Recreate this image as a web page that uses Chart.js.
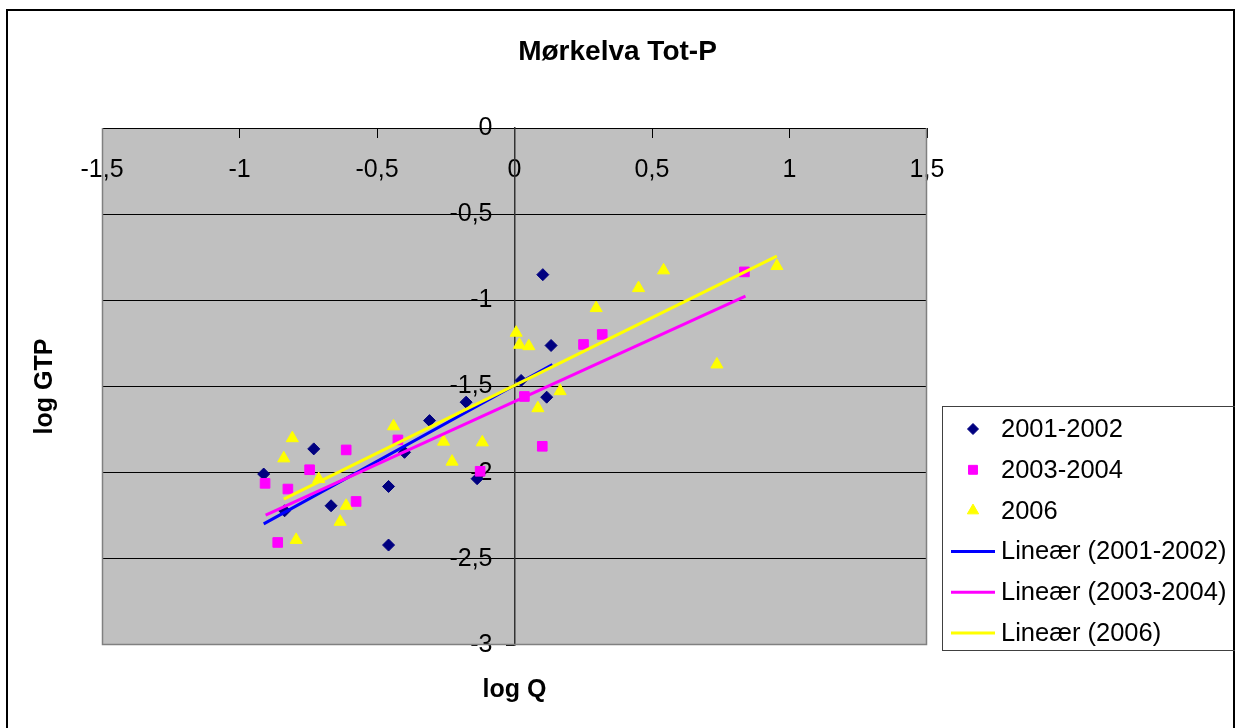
<!DOCTYPE html>
<html>
<head>
<meta charset="utf-8">
<title>Mørkelva Tot-P</title>
<script src="https://cdn.jsdelivr.net/npm/chart.js@4.4.0/dist/chart.umd.min.js"></script>
<style>
    html, body { margin: 0; padding: 0; background: #ffffff; }
    #wrap { width: 1235px; height: 728px; }
</style>
</head>
<body>
<div id="wrap"><canvas id="chartMorkelva" width="1235" height="728"></canvas></div>
<script>
// ---------- Datos ----------
var serieNombres = ['2001-2002', '2003-2004', '2006'];

// 2001-2002
var q0102   = [-0.912, -0.730, -0.836, -0.667, -0.458, -0.458, -0.400, -0.309, -0.176, -0.136, 0.024, 0.117, 0.133, 0.103];
var gtp0102 = [-2.008, -1.862, -2.221, -2.192, -2.080, -2.420, -1.882, -1.698, -1.591, -2.035, -1.465, -1.562, -1.262, -0.851];

// 2003-2004
var q0304   = [-0.907, -0.824, -0.861, -0.745, -0.612, -0.576, -0.424, -0.125, 0.036, 0.101, 0.251, 0.319, 0.836];
var gtp0304 = [-2.062, -2.095, -2.405, -1.983, -1.868, -2.167, -1.810, -1.992, -1.558, -1.847, -1.256, -1.198, -0.835];

// 2006
var q06   = [-0.808, -0.839, -0.712, -0.612, -0.634, -0.794, -0.440, -0.258, -0.227, -0.117, 0.006, 0.018, 0.052, 0.085, 0.166, 0.297, 0.451, 0.542, 0.736, 0.954];
var gtp06 = [-1.800, -1.917, -2.037, -2.192, -2.285, -2.390, -1.731, -1.820, -1.936, -1.824, -1.188, -1.258, -1.266, -1.626, -1.527, -1.045, -0.929, -0.826, -1.372, -0.801];

// lineas de tendencia (extremos)
var trendQ0102 = [-0.912, 0.138],  trendGtp0102 = [-2.297, -1.372];
var trendQ0304 = [-0.905, 0.840],  trendGtp0304 = [-2.246, -0.975];
var trendQ06   = [-0.839, 0.954],  trendGtp06   = [-2.153, -0.744];

// ejes
var xTickValues = [-1.5, -1, -0.5, 0, 0.5, 1, 1.5];
var xTickLabels = ['-1,5', '-1', '-0,5', '0', '0,5', '1', '1,5'];
var yTickValues = [-3, -2.5, -2, -1.5, -1, -0.5, 0];
var yTickLabels = ['-3', '-2,5', '-2', '-1,5', '-1', '-0,5', '0'];

// ---------- Helpers ----------
var FONT = "'Liberation Sans', Arial, Helvetica, sans-serif";
var ANCHO_AREA = 825;          // px del area de trazado (x de -1,5 a 1,5)
var SEP_ETIQUETA_Y = 22;       // px entre etiquetas del eje y y la linea x=0

function _puntos(xs, ys) {
    return xs.map(function (x, i) { return { x: x, y: ys[i] }; });
}

function _ticksFijos(valores) {
    return function (scale) {
        scale.ticks = valores.map(function (v) { return { value: v }; });
    };
}

function _etiqueta(valores, labels) {
    return function (v) {
        var i = valores.indexOf(v);
        return i >= 0 ? labels[i] : '';
    };
}

// fondo gris del area, marco exterior y borde del area
var fondoPlugin = {
    id: 'fondoPlugin',
    beforeDraw: function (chart) {
        var ctx = chart.ctx, a = chart.chartArea;
        ctx.save();
        ctx.fillStyle = '#ffffff';
        ctx.fillRect(0, 0, chart.width, chart.height);
        ctx.fillStyle = '#c0c0c0';
        ctx.fillRect(a.left, a.top, a.right - a.left, a.bottom - a.top);
        ctx.strokeStyle = '#000000';
        ctx.lineWidth = 2;
        ctx.strokeRect(7, 10, 1227, 740);
        ctx.restore();
    },
    beforeDatasetsDraw: function (chart) {
        var ctx = chart.ctx, a = chart.chartArea;
        ctx.save();
        ctx.strokeStyle = '#808080';
        ctx.lineWidth = 1.5;
        ctx.beginPath();
        ctx.moveTo(a.left + 0.5, a.top);
        ctx.lineTo(a.left + 0.5, a.bottom - 0.5);
        ctx.lineTo(a.right - 0.5, a.bottom - 0.5);
        ctx.lineTo(a.right - 0.5, a.top);
        ctx.stroke();
        ctx.restore();
    }
};

// leyenda con marco, al estilo Excel
var leyendaPlugin = {
    id: 'leyendaPlugin',
    afterDraw: function (chart) {
        var ctx = chart.ctx;
        var box = { left: 942.5, top: 406.5, right: 1240, bottom: 650.5 };
        ctx.save();
        ctx.strokeStyle = '#404040';
        ctx.lineWidth = 1;
        ctx.strokeRect(box.left, box.top, box.right - box.left, box.bottom - box.top);

        var y0 = 429, paso = 40.8;
        ctx.font = '25.5px ' + FONT;
        ctx.textBaseline = 'middle';
        ctx.textAlign = 'left';
        chart.data.datasets.forEach(function (ds, i) {
            var y = y0 + i * paso;
            if (ds.showLine) {
                ctx.strokeStyle = ds.borderColor;
                ctx.lineWidth = 3;
                ctx.beginPath();
                ctx.moveTo(951, y);
                ctx.lineTo(995, y);
                ctx.stroke();
            } else {
                ctx.fillStyle = ds.backgroundColor;
                ctx.strokeStyle = ds.borderColor;
                ctx.lineWidth = 1;
                Chart.helpers.drawPoint(ctx, {
                    pointStyle: ds.pointStyle, rotation: 0,
                    radius: ds.pointRadius - 0.5, borderWidth: 1
                }, 973, y);
            }
            ctx.fillStyle = '#000000';
            ctx.fillText(ds.label, 1001, y + 1);
        });
        ctx.restore();
    }
};

function _serie(label, xs, ys, estilo, color, radio, orden) {
    return {
        label: label,
        data: _puntos(xs, ys),
        pointStyle: estilo,
        pointRadius: radio,
        pointHoverRadius: radio,
        pointBorderWidth: 1,
        backgroundColor: color,
        borderColor: color,
        showLine: false,
        order: orden
    };
}

function _tendencia(label, xs, ys, color, orden) {
    return {
        label: label,
        data: _puntos(xs, ys),
        showLine: true,
        borderColor: color,
        backgroundColor: color,
        borderWidth: 3,
        pointRadius: 0,
        fill: false,
        order: orden
    };
}

var canvas = document.getElementById('chartMorkelva');
var fontTicks = { family: FONT, size: 25 };
var fontTitulo = { family: FONT, size: 25, weight: 'bold' };

new Chart(canvas, {
    type: 'scatter',
    data: {
        datasets: [
            _serie(serieNombres[0], q0102, gtp0102, 'rectRot', '#000080', 6, 5),
            _serie(serieNombres[1], q0304, gtp0304, 'rect', '#ff00ff', 6.8, 4),
            _serie(serieNombres[2], q06, gtp06, 'triangle', '#ffff00', 7, 3),
            _tendencia('Lineær (' + serieNombres[0] + ')', trendQ0102, trendGtp0102, '#0000ff', 2),
            _tendencia('Lineær (' + serieNombres[1] + ')', trendQ0304, trendGtp0304, '#ff00ff', 1),
            _tendencia('Lineær (' + serieNombres[2] + ')', trendQ06, trendGtp06, '#ffff00', 0)
        ]
    },
    options: {
        responsive: false,
        animation: false,
        devicePixelRatio: 1,
        layout: { padding: 0 },
        plugins: {
            legend: { display: false },
            tooltip: { enabled: false },
            title: {
                display: true,
                text: 'Mørkelva Tot-P',
                color: '#000000',
                font: { family: FONT, size: 28, weight: 'bold' },
                padding: { top: 35, bottom: 59.4 }
            }
        },
        scales: {
            x: {
                type: 'linear', position: 'bottom', min: -1.5, max: 1.5,
                ticks: { display: false },
                grid: { display: false },
                border: { display: false },
                title: { display: true, text: 'log Q', color: '#000000', font: fontTitulo, padding: { top: 0, bottom: 23 } },
                afterFit: function (s) { s.height = 83; }
            },
            y: {
                type: 'linear', position: 'left', min: -3, max: 0,
                afterBuildTicks: _ticksFijos(yTickValues),
                ticks: { display: false },
                grid: {
                    drawTicks: false,
                    lineWidth: 1,
                    color: function (c) { return (c.tick && c.tick.value === -3) ? 'rgba(0,0,0,0)' : '#000000'; }
                },
                border: { display: false },
                title: { display: true, text: 'log GTP', color: '#000000', font: fontTitulo, padding: { top: 30, bottom: 0 } },
                afterFit: function (s) { s.width = 102; }
            },
            // espacio a la derecha para la leyenda
            yLeyenda: {
                type: 'linear', axis: 'y', position: 'right', min: -3, max: 0,
                ticks: { display: false },
                grid: { display: false },
                border: { display: false },
                afterFit: function (s) { s.width = 308; }
            },
            // eje x cruzando en y = 0 (arriba)
            x2: {
                type: 'linear', axis: 'x', position: { y: 0 }, min: -1.5, max: 1.5,
                afterBuildTicks: _ticksFijos(xTickValues),
                ticks: { color: '#000000', font: fontTicks, padding: 18, maxRotation: 0, autoSkip: false,
                         callback: _etiqueta(xTickValues, xTickLabels) },
                grid: { drawOnChartArea: false, tickLength: 9, color: '#000000' },
                border: { color: '#000000', width: 1 },
                afterFit: function (s) { s.height = 0; }
            },
            // eje y cruzando en x = 0: linea y marcas
            y2: {
                type: 'linear', axis: 'y', position: { x: 0 }, min: -3, max: 0,
                afterBuildTicks: _ticksFijos(yTickValues),
                ticks: { display: false },
                grid: { drawOnChartArea: false, tickLength: 8, color: '#000000' },
                border: { color: '#333333', width: 1.5 },
                afterFit: function (s) { s.width = 0; }
            },
            // etiquetas del eje y, a la izquierda de la linea x = 0
            y2Etiquetas: {
                type: 'linear', axis: 'y', position: { x: -SEP_ETIQUETA_Y * 3 / ANCHO_AREA }, min: -3, max: 0,
                afterBuildTicks: _ticksFijos(yTickValues),
                ticks: { color: '#000000', font: fontTicks, autoSkip: false,
                         callback: _etiqueta(yTickValues, yTickLabels) },
                grid: { display: false },
                border: { display: false },
                afterFit: function (s) { s.width = 0; }
            }
        }
    },
    plugins: [fondoPlugin, leyendaPlugin]
});
</script>
</body>
</html>
